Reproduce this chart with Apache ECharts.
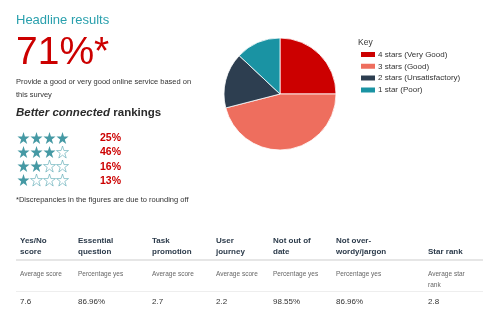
<!DOCTYPE html>
<html><head><meta charset="utf-8">
<script src="https://cdn.jsdelivr.net/npm/echarts@6/dist/echarts.min.js"></script>
<style>html,body{margin:0;padding:0;background:#fff}#c{width:493px;height:324px}</style>
</head><body><div id="c"></div>
<script>
var ratingNames = ['4 stars (Very Good)', '3 stars (Good)', '2 stars (Unsatisfactory)', '1 star (Poor)'];
var ratingStars = [4, 3, 2, 1];
var ratingPct = [25, 46, 16, 13];
var ratingColors = ['#cc0000', '#ee6e5e', '#2d3e50', '#1a93a3'];
var headlineValue = '71%*';
var tableHeaders = [['Yes/No', 'score'], ['Essential', 'question'], ['Task', 'promotion'], ['User', 'journey'], ['Not out of', 'date'], ['Not over-', 'wordy/jargon'], ['Star rank']];
var tableSubs = [['Average score'], ['Percentage yes'], ['Average score'], ['Average score'], ['Percentage yes'], ['Percentage yes'], ['Average star', 'rank']];
var tableValues = ['7.6', '86.96%', '2.7', '2.2', '98.55%', '86.96%', '2.8'];

var FONT = '"Liberation Sans", Arial, Helvetica, sans-serif';
var STAR = 'path://M50,0 L61.8,35.1 L98.9,35.1 L68.9,56.9 L80.3,92.1 L50,70.3 L19.7,92.1 L31.1,56.9 L1.1,35.1 L38.2,35.1 Z';

var chart = echarts.init(document.getElementById('c'), null, {renderer: 'canvas'});

var filled = [], empty = [];
ratingStars.forEach(function (n, row) {
  for (var i = 0; i < 4; i++) {
    (i < n ? filled : empty).push([i, row]);
  }
});

var colX = [20, 78, 152, 216, 273, 336, 428];
var pctTop = [133, 147, 162, 176];
var g = [];
g.push({type: 'text', left: 16, top: 14, style: {text: 'Headline results', font: '13px ' + FONT, fill: '#2aa0ad'}});
g.push({type: 'text', left: 16, top: 34, style: {text: headlineValue, font: '39px ' + FONT, fill: '#cc0000'}});
g.push({type: 'text', left: 16, top: 76, style: {text: 'Provide a good or very good online service based on\nthis survey', font: '7.5px ' + FONT, lineHeight: 12.5, fill: '#333'}});
g.push({type: 'text', left: 16, top: 107, style: {rich: {i: {fontFamily: FONT, fontSize: 11.5, fontWeight: 'bold', fontStyle: 'italic', fill: '#2b2b2b'}, b: {fontFamily: FONT, fontSize: 11.5, fontWeight: 'bold', fill: '#2b2b2b'}}, text: '{i|Better connected} {b|rankings}'}});
ratingPct.forEach(function (p, i) {
  g.push({type: 'text', left: 100, top: pctTop[i], style: {text: p + '%', font: 'bold 10.5px ' + FONT, fill: '#cc0000'}});
});
g.push({type: 'text', left: 16, top: 196, style: {text: '*Discrepancies in the figures are due to rounding off', font: '7.5px ' + FONT, fill: '#333'}});
tableHeaders.forEach(function (h, i) {
  g.push({type: 'text', left: colX[i], top: h.length === 1 ? 246 : 235, style: {text: h.join('\n'), font: 'bold 8px ' + FONT, lineHeight: 11, fill: '#2b3a4a'}});
});
g.push({type: 'rect', shape: {x: 16, y: 259, width: 467, height: 2}, style: {fill: '#e6e6e6'}});
tableSubs.forEach(function (s, i) {
  g.push({type: 'text', left: colX[i], top: 268, style: {text: s.join('\n'), font: '6.5px ' + FONT, lineHeight: 11.5, fill: '#666'}});
});
g.push({type: 'rect', shape: {x: 16, y: 291, width: 467, height: 1}, style: {fill: '#eeeeee'}});
tableValues.forEach(function (v, i) {
  g.push({type: 'text', left: colX[i], top: 298, style: {text: v, font: '8px ' + FONT, fill: '#333'}});
});
g.push({type: 'text', left: 358, top: 38, style: {text: 'Key', font: '8.5px ' + FONT, fill: '#333'}});

chart.setOption({
  animation: false,
  textStyle: {fontFamily: FONT},
  graphic: g,
  grid: {left: 17, top: 131, width: 52, height: 56},
  xAxis: {type: 'value', min: -0.5, max: 3.5, show: false},
  yAxis: {type: 'value', min: -0.5, max: 3.5, inverse: true, show: false},
  legend: {
    orient: 'vertical', left: 359, top: 50, itemWidth: 16, itemHeight: 7, itemGap: 2.8, padding: 0,
    icon: 'rect', data: ratingNames,
    textStyle: {fontSize: 8, lineHeight: 9, color: '#333', padding: [0, 0, 0, -3]}
  },
  series: [
    {type: 'scatter', symbol: STAR, symbolSize: 12, data: filled, itemStyle: {color: '#17808d'}, silent: true},
    {type: 'scatter', symbol: STAR, symbolSize: 12, data: empty, itemStyle: {color: '#fff', borderColor: '#5aa9b3', borderWidth: 0.8}, silent: true},
    {
      type: 'pie', center: [280, 94], radius: [0, 56], startAngle: 90, clockwise: true,
      label: {show: false}, labelLine: {show: false}, silent: true,
      itemStyle: {borderColor: '#fff', borderWidth: 0.8},
      data: ratingNames.map(function (n, i) { return {name: n, value: ratingPct[i], itemStyle: {color: ratingColors[i]}}; })
    }
  ]
});
</script></body></html>
